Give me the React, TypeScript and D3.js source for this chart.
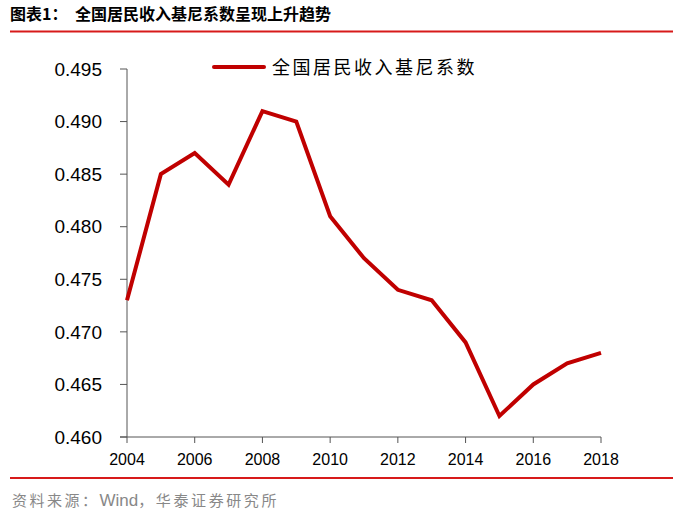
import * as d3 from "d3";

// 全国居民收入基尼系数
const years = [2004, 2005, 2006, 2007, 2008, 2009, 2010, 2011, 2012, 2013, 2014, 2015, 2016, 2017, 2018];
const gini = [0.473, 0.485, 0.487, 0.484, 0.491, 0.49, 0.481, 0.477, 0.474, 0.473, 0.469, 0.462, 0.465, 0.467, 0.468];
const yTicks = [0.46, 0.465, 0.47, 0.475, 0.48, 0.485, 0.49, 0.495];
const xTicks = [2004, 2006, 2008, 2010, 2012, 2014, 2016, 2018];

const W = 681;
const H = 526;
const cjk = "'Noto Sans CJK SC', sans-serif";
const latin = "Arial, 'Liberation Sans', sans-serif";

export default function App() {
  const x = d3.scaleLinear().domain([2004, 2018]).range([127, 601]);
  const y = d3.scaleLinear().domain([0.46, 0.495]).range([437, 69]);
  const fmt = d3.format(".3f");

  const line = d3
    .line<number>()
    .x((_, i) => x(years[i]))
    .y((d) => y(d));

  return (
    <svg
      width={W}
      height={H}
      style={{ position: "fixed", left: 0, top: 0, background: "#fff" }}
    >
      {/* title */}
      <text x={10} y={20} fontFamily={cjk} fontWeight={700} fontSize={16} fill="#000">
        图表1：
      </text>
      <text x={75} y={20} fontFamily={cjk} fontWeight={700} fontSize={16} fill="#000">
        全国居民收入基尼系数呈现上升趋势
      </text>
      <line x1={10} x2={673} y1={31.5} y2={31.5} stroke="#D71A1A" strokeWidth={2} />

      {/* y axis */}
      <line x1={127} x2={127} y1={69} y2={437} stroke="#555" strokeWidth={1} />
      {yTicks.map((t) => (
        <g key={t}>
          <line x1={120} x2={127} y1={y(t)} y2={y(t)} stroke="#555" />
          <text
            x={102}
            y={y(t)}
            dy="0.35em"
            textAnchor="end"
            fontFamily={latin}
            fontSize={19}
            fill="#000"
          >
            {fmt(t)}
          </text>
        </g>
      ))}

      {/* x axis */}
      <line x1={120} x2={601} y1={437} y2={437} stroke="#555" />
      {xTicks.map((t) => (
        <g key={t}>
          <line x1={x(t)} x2={x(t)} y1={437} y2={443} stroke="#555" />
          <text
            x={x(t)}
            y={465}
            textAnchor="middle"
            fontFamily={latin}
            fontSize={16}
            fill="#000"
          >
            {t}
          </text>
        </g>
      ))}

      {/* series */}
      <path
        d={line(gini) ?? ""}
        fill="none"
        stroke="#C00000"
        strokeWidth={4}
        strokeLinejoin="miter"
      />

      {/* legend */}
      <line x1={214} x2={264} y1={67} y2={67} stroke="#C00000" strokeWidth={4} strokeLinecap="round" />
      <text x={272} y={74} fontFamily={cjk} fontSize={18} fill="#000" letterSpacing={2.5}>
        全国居民收入基尼系数
      </text>

      {/* footer */}
      <line x1={10} x2={673} y1={478} y2={478} stroke="#D71A1A" strokeWidth={2} />
      <text x={12} y={506} fontFamily={cjk} fontSize={15} fill="#888">
        <tspan letterSpacing={2.5}>资料来源：</tspan>
        <tspan fontFamily={latin} fontSize={17}>Wind</tspan>
        <tspan letterSpacing={2.6}>，华泰证券研究所</tspan>
      </text>
    </svg>
  );
}
